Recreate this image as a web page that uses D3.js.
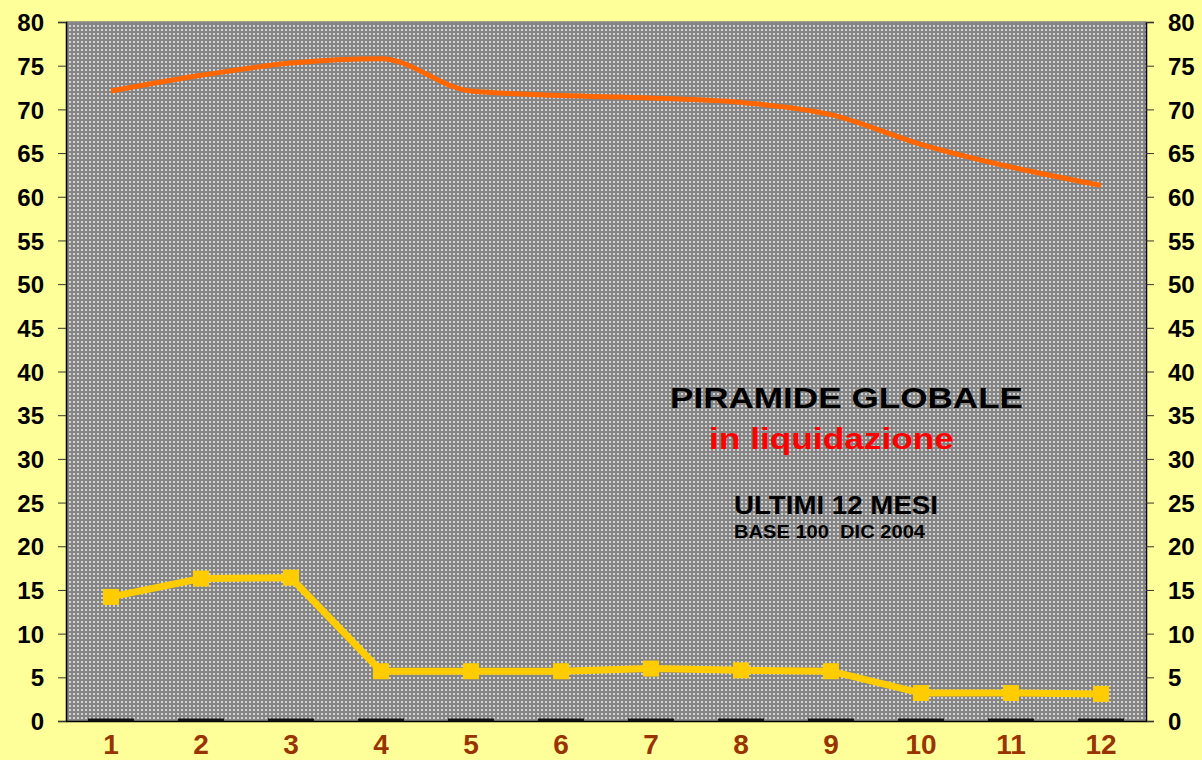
<!DOCTYPE html>
<html lang="it">
<head>
  <meta charset="UTF-8">
  <title>Piramide globale in liquidazione</title>
  <script src="https://d3js.org/d3.v7.min.js"></script>
  <style>
    body { margin: 0; background: #ffff99; }
    text { font-family: "Liberation Sans", Arial, sans-serif; font-weight: bold; }
  </style>
</head>
<body>
  <script>
    const months = ["1", "2", "3", "4", "5", "6", "7", "8", "9", "10", "11", "12"];
    const orangeValues = [72.1, 73.9, 75.3, 75.8, 72.1, 71.6, 71.3, 70.8, 69.4, 66.0, 63.4, 61.3];
    const yellowValues = [14.2, 16.3, 16.4, 5.7, 5.7, 5.7, 6.0, 5.8, 5.7, 3.2, 3.2, 3.1];
    const baseValues = [0, 0, 0, 0, 0, 0, 0, 0, 0, 0, 0, 0];
    const yTicks = d3.range(0, 81, 5);

    const width = 1202, height = 760;
    const margin = { top: 22, right: 56, bottom: 39, left: 66 };

    const svg = d3.select("body")
      .append("svg")
      .attr("width", width)
      .attr("height", height)
      .attr("viewBox", [0, 0, width, height]);

    const x = d3.scaleBand()
      .domain(months)
      .range([margin.left, width - margin.right]);

    const y = d3.scaleLinear()
      .domain([0, 80])
      .range([height - margin.bottom, margin.top]);

    // dotted grey fill of the plot area
    const pat = svg.append("defs").append("pattern")
      .attr("id", "dots")
      .attr("patternUnits", "userSpaceOnUse")
      .attr("width", 4)
      .attr("height", 4);
    pat.append("rect").attr("width", 4).attr("height", 4).attr("fill", "#858585");
    pat.append("rect").attr("x", 1).attr("y", 1).attr("width", 2).attr("height", 2).attr("fill", "#d2d2d2");

    svg.append("rect")
      .attr("x", margin.left)
      .attr("y", margin.top)
      .attr("width", width - margin.left - margin.right)
      .attr("height", height - margin.top - margin.bottom)
      .attr("fill", "url(#dots)");

    svg.append("line")
      .attr("x1", margin.left).attr("x2", width - margin.right)
      .attr("y1", margin.top).attr("y2", margin.top)
      .attr("stroke", "#808080").attr("stroke-width", 1.5);

    // axes
    const leftAxis = svg.append("g")
      .attr("transform", `translate(${margin.left},0)`)
      .call(d3.axisLeft(y).tickValues(yTicks).tickSize(8).tickPadding(14));

    const rightAxis = svg.append("g")
      .attr("transform", `translate(${width - margin.right},0)`)
      .call(d3.axisRight(y).tickValues(yTicks).tickSize(8).tickPadding(14));

    [leftAxis, rightAxis].forEach(g => {
      g.select(".domain").attr("stroke", "#000").attr("stroke-width", 1.5);
      g.selectAll(".tick line").attr("stroke", "#333");
      g.selectAll(".tick text")
        .attr("fill", "#000")
        .attr("font-size", 24)
        .attr("dy", "0.36em");
    });

    const xAxis = svg.append("g")
      .attr("transform", `translate(0,${height - margin.bottom})`)
      .call(d3.axisBottom(x).tickSize(0).tickPadding(13));
    xAxis.select(".domain").attr("stroke", "#000").attr("stroke-width", 1.5);
    xAxis.selectAll(".tick text")
      .attr("fill", "#993300")
      .attr("font-size", 28)
      .attr("dy", "0.72em");

    const cx = d => x(d) + x.bandwidth() / 2;

    // zero series drawn as short dark dashes on the baseline
    svg.append("g")
      .selectAll("line")
      .data(baseValues)
      .join("line")
      .attr("x1", (d, i) => cx(months[i]) - 23)
      .attr("x2", (d, i) => cx(months[i]) + 23)
      .attr("y1", d => y(d) - 1)
      .attr("y2", d => y(d) - 1)
      .attr("stroke", "#111")
      .attr("stroke-width", 3);

    svg.append("path")
      .datum(orangeValues)
      .attr("fill", "none")
      .attr("stroke", "#ff6600")
      .attr("stroke-width", 5)
      .attr("stroke-linejoin", "round")
      .attr("d", d3.line()
        .x((d, i) => cx(months[i]))
        .y(d => y(d))
        .curve(d3.curveMonotoneX));

    svg.append("path")
      .datum(yellowValues)
      .attr("fill", "none")
      .attr("stroke", "#ffcc00")
      .attr("stroke-width", 7)
      .attr("d", d3.line().x((d, i) => cx(months[i])).y(d => y(d)));

    svg.append("g")
      .selectAll("rect")
      .data(yellowValues)
      .join("rect")
      .attr("x", (d, i) => cx(months[i]) - 8)
      .attr("y", d => y(d) - 8)
      .attr("width", 16)
      .attr("height", 16)
      .attr("fill", "#ffcc00");

    // annotation block (text is a bit stretched in the original)
    const note = svg.append("g");
    note.append("text").attr("x", 670).attr("y", 408)
      .attr("font-size", 30).attr("fill", "#000")
      .attr("textLength", 353).attr("lengthAdjust", "spacingAndGlyphs")
      .text("PIRAMIDE GLOBALE");
    note.append("text").attr("x", 709).attr("y", 449)
      .attr("font-size", 30).attr("fill", "#ff0000")
      .attr("textLength", 245).attr("lengthAdjust", "spacingAndGlyphs")
      .text("in liquidazione");
    note.append("text").attr("x", 734).attr("y", 514)
      .attr("font-size", 25).attr("fill", "#000")
      .attr("textLength", 204).attr("lengthAdjust", "spacingAndGlyphs")
      .text("ULTIMI 12 MESI");
    note.append("text").attr("x", 734).attr("y", 538)
      .attr("font-size", 19).attr("fill", "#000").attr("xml:space", "preserve")
      .attr("textLength", 191).attr("lengthAdjust", "spacingAndGlyphs")
      .text("BASE 100  DIC 2004");
  </script>
</body>
</html>
